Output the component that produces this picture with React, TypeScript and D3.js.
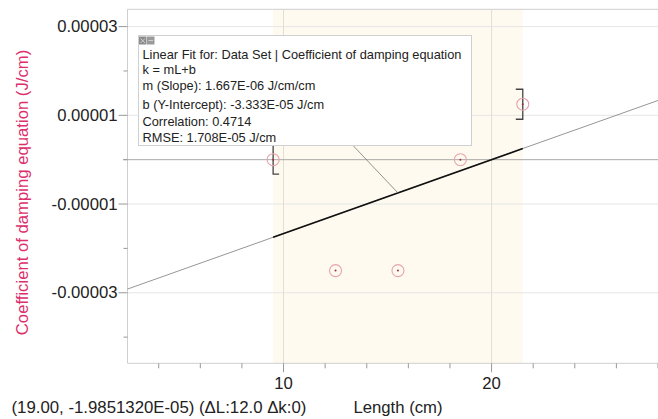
import * as d3 from "d3";
import React from "react";

// selected data set (Length vs coefficient of damping)
const lengths = [9.5, 12.5, 15.5, 18.5, 21.5];
const coeffs = [0, -2.5e-5, -2.5e-5, 0, 1.25e-5];

// linear fit k = mL + b over the selected range
const fitSlope = 1.667e-6;
const fitIntercept = -3.333e-5;
const fitRange = [9.5, 21.5];

const yTickValues = [3e-5, 1e-5, -1e-5, -3e-5];
const yTickLabels = ["0.00003", "0.00001", "-0.00001", "-0.00003"];
const yMinorTicks = [2e-5, 0, -2e-5, -4e-5];
const xTickValues = [10, 20];
const xTickLabels = ["10", "20"];
const xMinorTicks = [4, 6, 8, 12, 14, 16, 18, 22, 24, 26, 28];

const fitLines = [
  "Linear Fit for: Data Set | Coefficient of damping equation",
  "k = mL+b",
  "m (Slope): 1.667E-06 J/cm/cm",
  "b (Y-Intercept): -3.333E-05 J/cm",
  "Correlation: 0.4714",
  "RMSE: 1.708E-05 J/cm",
];
const fitLineY = [54.5, 69.5, 85.5, 104, 121.5, 137];

const W = 658;
const H = 419;
const FONT = "Liberation Sans, Arial, sans-serif";

export default function App() {
  const x = d3.scaleLinear().domain([2.5, 28]).range([127.5, 658]);
  const y = d3.scaleLinear().domain([-4.59e-5, 3.39e-5]).range([363.3, 9.3]);
  const [x0, x1] = x.range();
  const yBottom = y.range()[0];
  const yTop = y.range()[1];
  const fit = (v: number) => fitSlope * v + fitIntercept;

  const line = d3
    .line<number>()
    .x((d) => x(d))
    .y((d) => y(fit(d)));

  // annotation box
  const box = { x: 138.5, y: 35.5, w: 333, h: 110 };
  const connX = 353;
  const pointedAt = 15.5;

  return (
    <svg
      width={W}
      height={H}
      style={{ position: "absolute", left: 0, top: 0, background: "#fff" }}
      fontFamily={FONT}
    >
      {/* selected region */}
      <rect
        x={x(fitRange[0])}
        y={yTop}
        width={x(fitRange[1]) - x(fitRange[0])}
        height={yBottom - yTop}
        fill="#fefaf0"
      />
      {/* grid */}
      {yTickValues.map((v) => (
        <line key={"gy" + v} x1={x0} x2={x1} y1={y(v)} y2={y(v)} stroke="#e6e6e6" />
      ))}
      {xTickValues.map((v) => (
        <line key={"gx" + v} x1={x(v)} x2={x(v)} y1={yTop} y2={yBottom} stroke="#e2ded6" />
      ))}
      {/* frame */}
      <line x1={x0} x2={x1} y1={yTop} y2={yTop} stroke="#cfcfcf" />
      <line x1={x0} x2={x0} y1={yTop} y2={yBottom} stroke="#cfcfcf" />
      <line x1={x0} x2={x1} y1={yBottom} y2={yBottom} stroke="#cfcfcf" />
      {/* zero line */}
      <line x1={123} x2={x1} y1={y(0)} y2={y(0)} stroke="#a9a9a9" />

      {/* y ticks */}
      {yTickValues.map((v, i) => (
        <g key={"yt" + v}>
          <line x1={x0 - 9} x2={x0} y1={y(v)} y2={y(v)} stroke="#999" />
          <text
            x={x0 - 10}
            y={y(v)}
            textAnchor="end"
            dominantBaseline="central"
            fontSize={16.7}
            fill="#222"
          >
            {yTickLabels[i]}
          </text>
        </g>
      ))}
      {yMinorTicks.map((v) => (
        <line key={"ym" + v} x1={x0 - 4} x2={x0} y1={y(v)} y2={y(v)} stroke="#999" />
      ))}
      {/* x ticks */}
      {xTickValues.map((v, i) => (
        <g key={"xt" + v}>
          <line x1={x(v)} x2={x(v)} y1={yBottom} y2={yBottom + 9} stroke="#999" />
          <text
            x={x(v)}
            y={383.5}
            textAnchor="middle"
            dominantBaseline="central"
            fontSize={16.7}
            fill="#222"
          >
            {xTickLabels[i]}
          </text>
        </g>
      ))}
      {xMinorTicks.map((v) => (
        <line key={"xm" + v} x1={x(v)} x2={x(v)} y1={yBottom} y2={yBottom + 5} stroke="#999" />
      ))}

      {/* fit line */}
      <path d={line(x.domain()) || ""} stroke="#8a8a8a" strokeWidth={0.9} fill="none" />
      <path d={line(fitRange) || ""} stroke="#111" strokeWidth={1.7} fill="none" />

      {/* brackets at ends of selected range */}
      <path
        d={`M${x(lengths[0])},${y(coeffs[0]) - 15}V${y(coeffs[0]) + 14.5}h6`}
        stroke="#444"
        strokeWidth={1.3}
        fill="none"
      />
      <path
        d={`M${x(lengths[4]) - 7},${y(coeffs[4]) - 15}h7V${y(coeffs[4]) + 15}h-7`}
        stroke="#444"
        strokeWidth={1.3}
        fill="none"
      />

      {/* data points */}
      {lengths.map((v, i) => (
        <g key={"p" + i}>
          <circle cx={x(v)} cy={y(coeffs[i])} r={6} fill="none" stroke="#e7a3ad" strokeWidth={1.1} />
          <circle cx={x(v)} cy={y(coeffs[i])} r={1} fill="#a03040" />
        </g>
      ))}

      {/* annotation connector */}
      <line
        x1={connX}
        y1={box.y + box.h}
        x2={x(pointedAt)}
        y2={y(fit(pointedAt))}
        stroke="#777"
        strokeWidth={0.8}
      />
      {/* annotation box */}
      <rect x={box.x} y={box.y} width={box.w} height={box.h} fill="#fff" stroke="#d0d0d0" />
      <rect x={139} y={36.5} width={7.5} height={8} fill="#8c8c8c" />
      <rect x={147} y={36.5} width={7.5} height={8} fill="#9a9a9a" />
      <path d="M140.5,38.5l4.5,4.5M145,38.5l-4.5,4.5" stroke="#ddd" strokeWidth={0.8} />
      <path d="M148.5,40.5h4.5" stroke="#ddd" strokeWidth={0.8} />
      {fitLines.map((t, i) => (
        <text
          key={"fl" + i}
          x={142.5}
          y={fitLineY[i]}
          dominantBaseline="central"
          fontSize={12.8}
          fill="#222"
        >
          {t}
        </text>
      ))}

      {/* axis labels */}
      <text
        transform={`translate(22,192.5) rotate(-90)`}
        textAnchor="middle"
        dominantBaseline="central"
        fontSize={16.7}
        fill="#dc2f6b"
      >
        Coefficient of damping equation (J/cm)
      </text>
      <text x={398} y={407} textAnchor="middle" dominantBaseline="central" fontSize={16.7} fill="#222">
        Length (cm)
      </text>
      <text x={11.5} y={407} dominantBaseline="central" fontSize={16.8} fill="#222">
        (19.00, -1.9851320E-05) (ΔL:12.0 Δk:0)
      </text>
    </svg>
  );
}
